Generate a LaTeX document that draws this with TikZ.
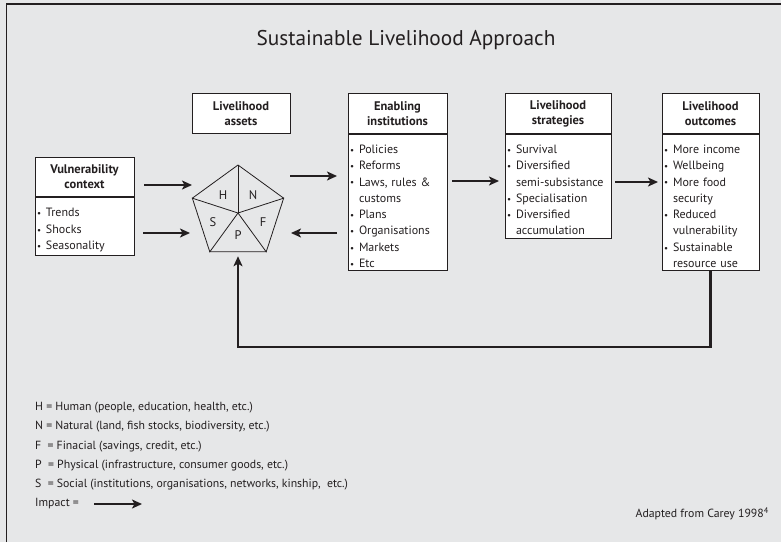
\documentclass[tikz,border=0pt]{standalone}
\usepackage{fontspec}
\setmainfont{PT Sans}
\usetikzlibrary{arrows.meta,positioning,shapes.geometric,calc}
\definecolor{bggray}{HTML}{E6E7E8}
\definecolor{ink}{HTML}{231F20}
\newcommand{\itm}{\par\makebox[9pt][l]{\raisebox{0.2pt}{\small\textbullet}}}
\newcommand{\cnt}{\\\hspace*{9pt}}

\begin{document}
\begin{tikzpicture}[x=1pt,y=-1pt,
    impact/.style={-{Stealth[length=10pt,width=9pt,inset=2.5pt]},line width=2.2pt,draw=ink},
    head/.style={draw=ink,fill=white,line width=0.9pt,align=center,inner sep=0pt,minimum height=39.5pt,
        font=\fontsize{12.5}{15}\selectfont\bfseries,text=ink},
    body/.style={draw=ink,fill=white,line width=0.9pt,align=left,inner xsep=2pt,inner ysep=3pt,
        font=\fontsize{12}{16.3}\selectfont,text=ink,below=0pt of #1},
    legend/.style={font=\fontsize{11.8}{13}\selectfont,text=ink,inner sep=0pt,anchor=west},
    letter/.style={font=\fontsize{12.5}{13}\selectfont,text=ink,inner sep=0pt}]

    \fill[bggray] (0,0) rectangle (781,542);
    \useasboundingbox (0,0) rectangle (781,542);
    \draw[ink,line width=1.6pt] (6.5,542) -- (6.5,4) -- (781,4);

    \node[font=\fontsize{21.3}{24}\selectfont,text=ink] (title) at (406,40) {Sustainable Livelihood Approach};

    % boxes
    \node[head,text width=99pt] (vulhead) at (84.5,177) {Vulnerability\\context};
    \node[body=vulhead,text width=95pt] (vulbody) {\itm Trends\itm Shocks\itm Seasonality};

    \node[head,text width=98pt] (asshead) at (241,113.5) {Livelihood\\assets};

    \node[head,text width=99pt] (enhead) at (397.5,113.5) {Enabling\\institutions};
    \node[body=enhead,text width=95pt] (enbody) {\itm Policies\itm Reforms\itm Laws, rules \&\cnt customs
        \itm Plans\itm Organisations\itm Markets\itm Etc};

    \node[head,text width=106pt] (strhead) at (558,113.5) {Livelihood\\strategies};
    \node[body=strhead,text width=102pt] (strbody) {\itm Survival\itm Diversified\cnt semi-subsistance
        \itm Specialisation\itm Diversified\cnt accumulation};

    \node[head,text width=97pt] (outhead) at (710.5,113.5) {Livelihood\\outcomes};
    \node[body=outhead,text width=93pt] (outbody) {\itm More income\itm Wellbeing\itm More food\cnt security
        \itm Reduced\cnt vulnerability\itm Sustainable\cnt resource use};

    % asset pentagon
    \node[regular polygon,regular polygon sides=5,minimum size=96pt,inner sep=0pt,draw=ink,line width=0.8pt] (pent) at (238,213) {};
    \foreach \c in {1,...,5}
        \draw[ink,line width=0.8pt] (pent.center) -- (pent.corner \c);
    \node[letter] (lH) at ($(pent.center)+(-15,-18)$) {H};
    \node[letter] (lN) at ($(pent.center)+(15,-18)$) {N};
    \node[letter] (lS) at ($(pent.center)+(-25,9)$) {S};
    \node[letter] (lF) at ($(pent.center)+(25,9)$) {F};
    \node[letter] (lP) at ($(pent.center)+(0,22)$) {P};

    % impacts
    \coordinate (v1) at (144,185);
    \coordinate (p1) at (192,185);
    \coordinate (v2) at (143,233);
    \coordinate (p2) at (190,233);
    \coordinate (p3) at (290,176);
    \coordinate (e3) at (337,176);
    \coordinate (e4) at (337,233);
    \coordinate (p4) at (291,233);
    \coordinate (e5) at (452,181);
    \coordinate (s5) at (499,181);
    \coordinate (s6) at (615,182);
    \coordinate (o6) at (658,182);
    \draw[impact] (v1) -- (p1);
    \draw[impact] (v2) -- (p2);
    \draw[impact] (p3) -- (e3);
    \draw[impact] (e4) -- (p4);
    \draw[impact] (e5) -- (s5);
    \draw[impact] (s6) -- (o6);
    \draw[impact,shorten >=4pt] (outbody.south) -- ++(0,76) -| (pent.south);

    % legend
    \node[legend] (lgH) at (35,408) {H = Human (people, education, health, etc.)};
    \node[legend] (lgN) at (35,427) {N = Natural (land, fish stocks, biodiversity, etc.)};
    \node[legend] (lgF) at (35,447) {F\ \ = Finacial (savings, credit, etc.)};
    \node[legend] (lgP) at (35,466) {P\ \ = Physical (infrastructure, consumer goods, etc.)};
    \node[legend] (lgS) at (35,485) {S\ \ = Social (institutions, organisations, networks, kinship,\ \ etc.)};
    \node[legend] (lgI) at (35,504) {Impact =};
    \coordinate (k1) at (94,504);
    \coordinate (k2) at (142,504);
    \draw[impact] (k1) -- (k2);

    \node[legend,anchor=east] (src) at (769,514) {Adapted from Carey 1998\textsuperscript{4}};

\end{tikzpicture}
\end{document}
